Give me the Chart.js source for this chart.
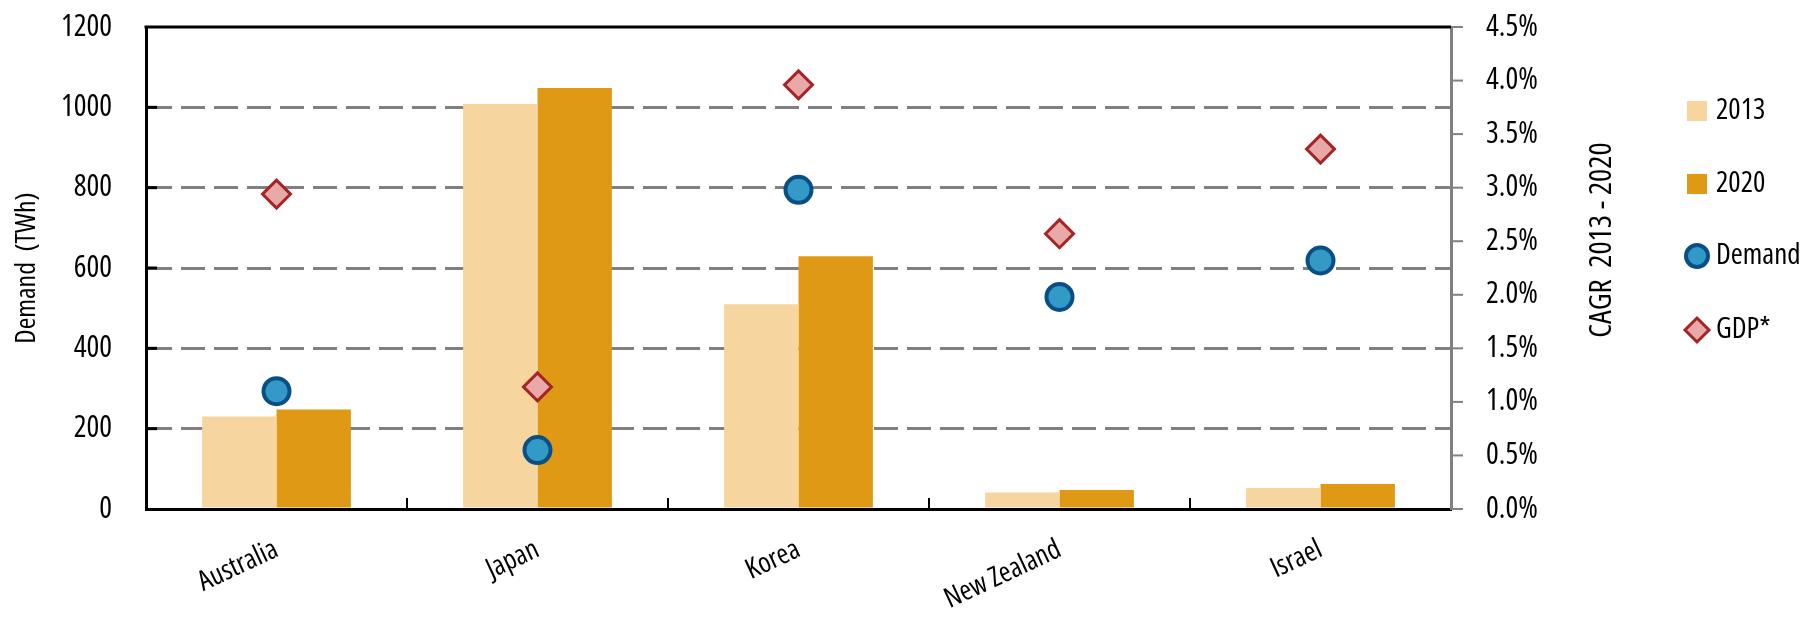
<!DOCTYPE html>
<html>
<head>
<meta charset="utf-8">
<script src="https://cdn.jsdelivr.net/npm/chart.js@4.4.0/dist/chart.umd.min.js"></script>
<style>
  html, body { margin: 0; padding: 0; background: #fff; }
</style>
</head>
<body>
<canvas id="demandChart" width="1804" height="620"></canvas>
<script>
// data
const countries = ['Australia', 'Japan', 'Korea', 'New Zealand', 'Israel'];
const demand2013 = [230, 1008, 510, 41, 52];
const demand2020 = [248, 1048, 629, 47, 62];
const cagrDemand = [1.10, 0.55, 2.98, 1.98, 2.32];
const cagrGdp = [2.94, 1.14, 3.96, 2.57, 3.36];
const leftTicks = [0, 200, 400, 600, 800, 1000, 1200];
const rightTicks = [0, 0.5, 1.0, 1.5, 2.0, 2.5, 3.0, 3.5, 4.0, 4.5];

const FONT = '"Open Sans", sans-serif';
const STRETCH = '500 condensed';   // weight + width, goes into the font string
const C2013 = '#f6d69e';
const C2020 = '#e09915';
const DEM_FILL = '#3399c6';
const DEM_LINE = '#0a4e86';
const GDP_FILL = '#eaa9a9';
const GDP_LINE = '#a52527';
const GRID = '#808080';
const NONE = 'rgba(0,0,0,0)';

// top border, small tick marks, right title and legend
const extras = {
    id: 'extras',
    afterDatasetsDraw(chart) {
        const ctx = chart.ctx;
        const a = chart.chartArea;
        const x = chart.scales.x;
        const y = chart.scales.y;
        const y1 = chart.scales.y1;
        ctx.save();
        ctx.strokeStyle = '#000';
        ctx.lineWidth = 3;
        ctx.beginPath();
        ctx.moveTo(a.left - 1.5, a.top);
        ctx.lineTo(a.right, a.top);
        ctx.stroke();
        // inward ticks on the left axis
        leftTicks.slice(1, -1).forEach(v => {
            const py = y.getPixelForValue(v);
            ctx.beginPath();
            ctx.moveTo(a.left, py);
            ctx.lineTo(a.left + 11, py);
            ctx.stroke();
        });
        // inward ticks between categories
        ctx.lineWidth = 2;
        for (let i = 1; i < countries.length; i++) {
            const px = (x.getPixelForTick(i - 1) + x.getPixelForTick(i)) / 2;
            ctx.beginPath();
            ctx.moveTo(px, a.bottom);
            ctx.lineTo(px, a.bottom - 11);
            ctx.stroke();
        }
        // outward grey ticks on the right axis
        ctx.strokeStyle = GRID;
        rightTicks.forEach(v => {
            const py = y1.getPixelForValue(v);
            ctx.beginPath();
            ctx.moveTo(a.right, py);
            ctx.lineTo(a.right + 12, py);
            ctx.stroke();
        });
        ctx.restore();
    },
    afterDraw(chart) {
        const ctx = chart.ctx;
        ctx.save();
        // right axis title, reads bottom to top
        ctx.fillStyle = '#000';
        ctx.font = STRETCH + ' 31px ' + FONT;
        ctx.textAlign = 'center';
        ctx.textBaseline = 'middle';
        ctx.translate(1602, 240);
        ctx.rotate(-Math.PI / 2);
        ctx.fillText('CAGR  2013 - 2020', 0, 0);
        ctx.restore();

        // legend
        ctx.save();
        const ds = chart.data.datasets;
        const lx = 1697, tx = 1716;
        const ly = [111, 184, 256, 330];
        ctx.font = STRETCH + ' 29px ' + FONT;
        ctx.textBaseline = 'middle';
        ctx.textAlign = 'left';
        ds.forEach((d, i) => {
            const yy = ly[i];
            if (d.type === 'bar') {
                ctx.fillStyle = d.backgroundColor;
                ctx.fillRect(lx - 10, yy - 10, 20, 20);
            } else if (d.pointStyle === 'circle') {
                ctx.beginPath();
                ctx.arc(lx, yy, 11, 0, Math.PI * 2);
                ctx.fillStyle = d.pointBackgroundColor;
                ctx.fill();
                ctx.lineWidth = 4;
                ctx.strokeStyle = d.pointBorderColor;
                ctx.stroke();
            } else {
                ctx.beginPath();
                ctx.moveTo(lx, yy - 12);
                ctx.lineTo(lx + 12, yy);
                ctx.lineTo(lx, yy + 12);
                ctx.lineTo(lx - 12, yy);
                ctx.closePath();
                ctx.fillStyle = d.pointBackgroundColor;
                ctx.fill();
                ctx.lineWidth = 3;
                ctx.strokeStyle = d.pointBorderColor;
                ctx.stroke();
            }
            ctx.fillStyle = '#000';
            ctx.fillText(d.label, tx, yy);
        });
        ctx.restore();
    }
};

const ctx = document.getElementById('demandChart').getContext('2d');

new Chart(ctx, {
    type: 'bar',
    data: {
        labels: countries,
        datasets: [
            {
                type: 'bar',
                label: '2013',
                data: demand2013,
                backgroundColor: C2013,
                yAxisID: 'y',
                categoryPercentage: 0.57,
                barPercentage: 1.0,
                order: 2
            },
            {
                type: 'bar',
                label: '2020',
                data: demand2020,
                backgroundColor: C2020,
                yAxisID: 'y',
                categoryPercentage: 0.57,
                barPercentage: 1.0,
                order: 2
            },
            {
                type: 'line',
                label: 'Demand',
                data: cagrDemand,
                yAxisID: 'y1',
                showLine: false,
                pointStyle: 'circle',
                pointRadius: 13,
                pointBorderWidth: 4,
                pointBackgroundColor: DEM_FILL,
                pointBorderColor: DEM_LINE,
                order: 1
            },
            {
                type: 'line',
                label: 'GDP*',
                data: cagrGdp,
                yAxisID: 'y1',
                showLine: false,
                pointStyle: 'rectRot',
                pointRadius: 14,
                pointBorderWidth: 3,
                pointBackgroundColor: GDP_FILL,
                pointBorderColor: GDP_LINE,
                order: 1
            }
        ]
    },
    options: {
        responsive: false,
        animation: false,
        devicePixelRatio: 1,
        layout: {
            padding: { top: 27, right: 233, left: 0, bottom: 0 }
        },
        plugins: {
            legend: { display: false },
            tooltip: { enabled: false }
        },
        scales: {
            x: {
                grid: { display: false },
                border: { color: '#000', width: 3 },
                ticks: {
                    color: '#000',
                    font: { family: FONT, size: 28, weight: STRETCH },
                    minRotation: 25,
                    maxRotation: 25,
                    padding: 16
                },
                afterFit: s => { s.height = 111; }
            },
            y: {
                position: 'left',
                min: 0,
                max: 1200,
                afterBuildTicks: s => { s.ticks = leftTicks.map(v => ({ value: v })); },
                grid: {
                    drawTicks: true,
                    tickLength: 30,
                    tickColor: NONE,
                    lineWidth: 3,
                    color: c => (c.tick && (c.tick.value === 0 || c.tick.value === 1200)) ? NONE : GRID
                },
                border: { color: '#000', width: 3, dash: [24, 9] },
                ticks: {
                    color: '#000',
                    font: { family: FONT, size: 30, weight: STRETCH },
                    padding: 4,
                    callback: v => String(v)
                },
                title: {
                    display: true,
                    text: 'Demand  (TWh)',
                    color: '#000',
                    font: { family: FONT, size: 28, weight: STRETCH },
                    padding: { top: 10, bottom: 0 }
                },
                afterFit: s => { s.width = 146; }
            },
            y1: {
                position: 'right',
                min: 0,
                max: 4.5,
                afterBuildTicks: s => { s.ticks = rightTicks.map(v => ({ value: v })); },
                grid: {
                    drawOnChartArea: false,
                    drawTicks: true,
                    tickLength: 33,
                    tickColor: NONE
                },
                border: { color: GRID, width: 3 },
                ticks: {
                    color: '#000',
                    font: { family: FONT, size: 30, weight: STRETCH },
                    padding: 2,
                    callback: v => v.toFixed(1) + '%'
                },
                afterFit: s => { s.width = 120; }
            }
        }
    },
    plugins: [extras]
});
</script>
</body>
</html>
